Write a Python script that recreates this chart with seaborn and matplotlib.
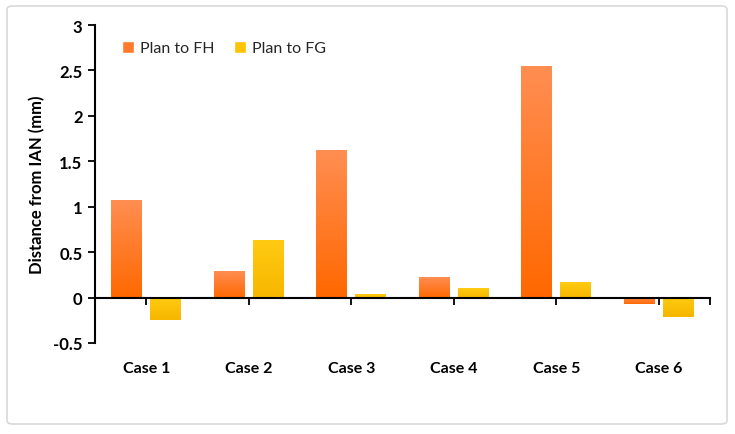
import numpy as np
import pandas as pd
import matplotlib
matplotlib.use("Agg")
import matplotlib.pyplot as plt
import seaborn as sns
from matplotlib.colors import LinearSegmentedColormap
from matplotlib.patches import FancyBboxPatch, Patch
from matplotlib.ticker import FuncFormatter

cases = ["Case 1", "Case 2", "Case 3", "Case 4", "Case 5", "Case 6"]
plan_to_fh = [1.07, 0.29, 1.62, 0.23, 2.55, -0.07]
plan_to_fg = [-0.25, 0.63, 0.04, 0.10, 0.17, -0.21]
series = ["Plan to FH", "Plan to FG"]
y_ticks = [-0.5, 0, 0.5, 1, 1.5, 2, 2.5, 3]

df = pd.DataFrame({
    "case": cases * 2,
    "value": plan_to_fh + plan_to_fg,
    "series": [series[0]] * len(cases) + [series[1]] * len(cases),
})

sns.set_theme(style="white")
plt.rcParams["font.family"] = ["Lato", "DejaVu Sans"]

fig = plt.figure(figsize=(7.35, 4.35), dpi=100)
ax = fig.add_axes([95 / 735, 1 - 344 / 435, 615 / 735, 318 / 435])

solid = ["#FF7A2A", "#FFC400"]
sns.barplot(data=df, x="case", y="value", hue="series", palette=solid,
            width=0.76, gap=0.21, ax=ax, legend=False)

grad_cols = [("#FF6800", "#FF8E52"), ("#F7B600", "#FFCB12")]
bars = [p for p in ax.patches]
n = len(cases)
for i, p in enumerate(bars):
    bb = p.get_bbox()
    x0, x1 = sorted([bb.x0, bb.x1])
    y0, y1 = sorted([bb.y0, bb.y1])
    k = 0 if i < n else 1
    cmap = LinearSegmentedColormap.from_list("g%d" % i, list(grad_cols[k]))
    grad = np.linspace(0, 1, 256).reshape(-1, 1)
    ax.imshow(grad, extent=[x0, x1, y0, y1], origin="lower", cmap=cmap,
              aspect="auto", zorder=2, interpolation="bilinear")
    p.set_visible(False)

ax.set_xlim(-0.5, 5.5)
ax.set_ylim(-0.5, 3)
ax.set_yticks(y_ticks)
ax.yaxis.set_major_formatter(FuncFormatter(lambda v, _: f"{v:g}"))

for s in ["top", "right"]:
    ax.spines[s].set_visible(False)
ax.spines["left"].set_color("black")
ax.spines["left"].set_linewidth(1.5)
ax.spines["bottom"].set_position(("data", 0))
ax.spines["bottom"].set_color("black")
ax.spines["bottom"].set_linewidth(1.5)
ax.spines["bottom"].set_zorder(3)

ax.tick_params(axis="y", direction="out", length=5, width=1.3, color="black",
               left=True, labelsize=12, pad=4)
ax.tick_params(axis="x", which="both", direction="out", length=5, width=1.3,
               color="black", bottom=True, labelsize=11.5, pad=41)
ax.set_xticks([5.5], minor=True)
for lab in ax.get_yticklabels() + ax.get_xticklabels():
    lab.set_fontweight("bold")
    lab.set_color("black")

ax.set_xlabel("")
ax.set_ylabel("Distance from IAN (mm)", fontsize=12, fontweight="bold", color="black")
ax.yaxis.set_label_coords(-0.081, 0.5)

handles = [Patch(facecolor=solid[0], label=series[0]),
           Patch(facecolor=solid[1], label=series[1])]
ax.legend(handles=handles, loc="upper left", bbox_to_anchor=(0.02, 0.995),
          ncol=2, frameon=False, fontsize=11.5, handlelength=0.75,
          handleheight=0.75, handletextpad=0.4, columnspacing=1.2)

fig.patches.append(FancyBboxPatch((7 / 735, 1 - 425 / 435), 720 / 735, 418 / 435,
                                  boxstyle="round,pad=0,rounding_size=0.008",
                                  transform=fig.transFigure, fill=False,
                                  edgecolor="#D9D9D9", linewidth=1.2))

fig.savefig("out.png", dpi=100)
